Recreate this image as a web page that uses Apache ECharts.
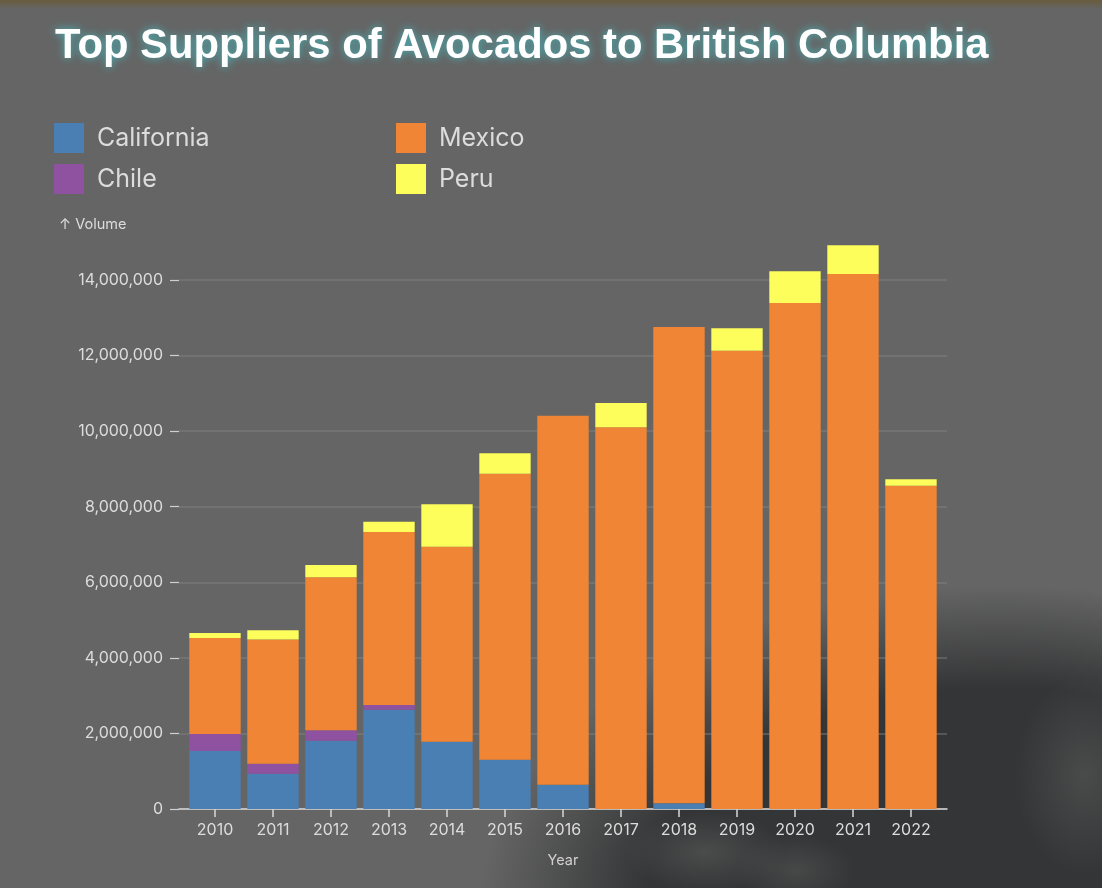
<!DOCTYPE html>
<html>
<head>
<meta charset="utf-8">
<script src="https://cdn.jsdelivr.net/npm/echarts@6/dist/echarts.min.js"></script>
<style>
  html, body { margin: 0; padding: 0; }
  #bg {
    position: absolute; left: 0; top: 0; width: 1102px; height: 888px;
    background:
      radial-gradient(ellipse 70px 100px at 1085px 775px, rgba(92,92,92,0.55) 0%, rgba(92,92,92,0) 100%),
      radial-gradient(ellipse 80px 40px at 705px 852px, rgba(90,90,90,0.6) 0%, rgba(90,90,90,0) 100%),
      radial-gradient(ellipse 60px 35px at 795px 870px, rgba(90,90,90,0.5) 0%, rgba(90,90,90,0) 100%),
      radial-gradient(ellipse 520px 320px at 1000px 905px, rgba(52,53,54,1) 0%, rgba(52,53,54,1) 68%, rgba(52,53,54,0) 100%),
      linear-gradient(to bottom, rgba(105,92,60,1) 0px, rgba(101,101,101,1) 9px),
      #656565;
  }
  #chart { position: absolute; left: 0; top: 0; width: 1102px; height: 888px; }
</style>
</head>
<body>
<div id="bg"></div>
<div id="chart"></div>
<script>
const years = ['2010','2011','2012','2013','2014','2015','2016','2017','2018','2019','2020','2021','2022'];
const california = [1535000, 934000, 1807000, 2628000, 1781000, 1305000, 643000, 0, 151000, 0, 0, 0, 0];
const chile      = [450000, 265000, 276000, 124000, 0, 0, 0, 0, 0, 0, 0, 0, 0];
const mexico     = [2540000, 3290000, 4048000, 4578000, 5160000, 7568000, 9764000, 10100000, 12604000, 12128000, 13390000, 14157000, 8557000];
const peru       = [130000, 240000, 326000, 273000, 1122000, 539000, 0, 644000, 0, 592000, 839000, 760000, 167000];
const yTicks = [0, 2000000, 4000000, 6000000, 8000000, 10000000, 12000000, 14000000];

const seriesDefs = [
  { name: 'California', data: california, color: '#4a7fb3' },
  { name: 'Chile', data: chile, color: '#8f52a1' },
  { name: 'Mexico', data: mexico, color: '#f08635' },
  { name: 'Peru', data: peru, color: '#fdfd5b' }
];

const chart = echarts.init(document.getElementById('chart'), null, { renderer: 'canvas' });
const fontUI = 'Inter, "Noto Sans", sans-serif';
const fmt = v => v.toLocaleString('en-US');

const option = {
  backgroundColor: 'transparent',
  animation: false,
  title: {
    text: 'Top Suppliers of Avocados to British Columbia',
    left: 50, top: 20,
    textStyle: {
      fontFamily: '"Liberation Sans", Arial, sans-serif',
      fontWeight: 'bold', fontSize: 41.8, color: '#ffffff',
      textShadowColor: 'rgba(70,190,195,0.9)', textShadowBlur: 9
    }
  },
  legend: [
    {
      data: ['California', 'Chile'], left: 54, top: 123, orient: 'vertical',
      itemWidth: 30, itemHeight: 30, itemGap: 11, padding: 0, icon: 'rect',
      selectedMode: false,
      textStyle: { color: '#dcdcdc', fontSize: 25, fontFamily: fontUI, padding: [8, 0, 0, 8] }
    },
    {
      data: ['Mexico', 'Peru'], left: 396, top: 123, orient: 'vertical',
      itemWidth: 30, itemHeight: 30, itemGap: 11, padding: 0, icon: 'rect',
      selectedMode: false,
      textStyle: { color: '#dcdcdc', fontSize: 25, fontFamily: fontUI, padding: [8, 0, 0, 8] }
    }
  ],
  graphic: [
    { type: 'text', left: 59, top: 217,
      style: { text: '↑ Volume', fill: '#dcdcdc', font: '14.5px ' + fontUI } }
  ],
  grid: [
    { left: 179, right: 155, top: 280, bottom: 79 },
    { left: 186, right: 162, top: 242.2, bottom: 79 }
  ],
  xAxis: [
    {
      gridIndex: 0, type: 'category', data: years,
      axisLine: { show: true, lineStyle: { color: '#d8d8d8', width: 1.5 } },
      axisTick: { show: false }, axisLabel: { show: false },
      name: 'Year', nameLocation: 'middle', nameGap: 44,
      nameTextStyle: { color: '#d0d0d0', fontSize: 14.5, fontFamily: fontUI }
    },
    {
      gridIndex: 1, type: 'category', data: years,
      axisLine: { show: false },
      axisTick: { show: true, alignWithLabel: true, length: 8, lineStyle: { color: '#d8d8d8', width: 1.5 } },
      axisLabel: { color: '#dcdcdc', fontSize: 16, fontFamily: fontUI, margin: 13 }
    }
  ],
  yAxis: [
    {
      gridIndex: 0, type: 'value', min: 0, max: yTicks[yTicks.length - 1], interval: 2000000,
      axisLine: { show: false },
      axisTick: { show: true, length: 9, lineStyle: { color: '#d0d0d0', width: 1.2 } },
      axisLabel: { color: '#dcdcdc', fontSize: 16, fontFamily: fontUI, margin: 16, formatter: fmt },
      splitLine: { show: true, lineStyle: { color: 'rgba(130,130,130,0.6)', width: 1.5 } }
    },
    {
      gridIndex: 1, type: 'value', min: 0, max: 15000000,
      show: false, splitLine: { show: false }
    }
  ],
  series: seriesDefs.map(s => ({
    name: s.name, type: 'bar', stack: 'total',
    xAxisIndex: 1, yAxisIndex: 1,
    data: s.data, barCategoryGap: '11.4%',
    itemStyle: { color: s.color },
    emphasis: { disabled: true }
  }))
};
chart.setOption(option);
</script>
</body>
</html>
